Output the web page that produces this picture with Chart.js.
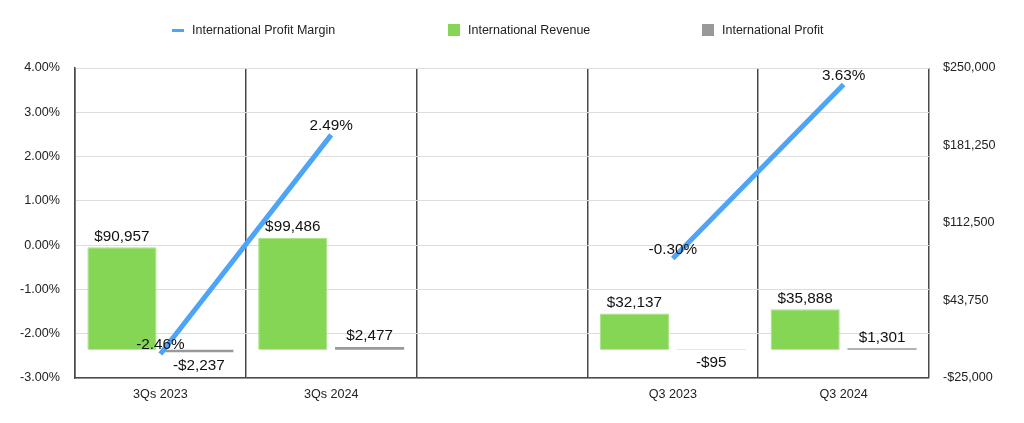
<!DOCTYPE html>
<html>
<head>
<meta charset="utf-8">
<script src="https://cdn.jsdelivr.net/npm/chart.js@4.4.1/dist/chart.umd.min.js"></script>
<style>
  html, body { margin: 0; padding: 0; background: #fff; }
  #wrap { position: relative; width: 1024px; height: 423px; }
  #legend { position: absolute; left: 0; top: 0; width: 1024px; height: 60px; pointer-events: none;
            font-family: Helvetica, Arial, "Liberation Sans", sans-serif; font-size: 12.5px; color: #222; }
  .item { position: absolute; top: 22px; height: 16px; display: flex; align-items: center; white-space: nowrap; }
  .mk { display: inline-block; }
</style>
</head>
<body>
<div id="wrap">
  <canvas id="c" width="1024" height="423"></canvas>
  <div id="legend"></div>
</div>
<script>
const categories = ['3Qs 2023', '3Qs 2024', '', 'Q3 2023', 'Q3 2024'];
const profitMargin = [-2.46, 2.49, null, -0.30, 3.63];
const revenue = [90957, 99486, null, 32137, 35888];
const profit = [-2237, 2477, null, -95, 1301];
const seriesNames = ['International Profit Margin', 'International Revenue', 'International Profit'];
const seriesColors = ['#4ea4f6', '#85d655', '#999999'];
const leftTicks = { min: -3, max: 4, step: 1 };
const rightTicks = { min: -25000, max: 250000, step: 68750 };

const FONT = 'Helvetica, Arial, "Liberation Sans", sans-serif';

function money(v) {
  const s = '$' + Math.abs(Math.round(v)).toLocaleString('en-US');
  return v < 0 ? '-' + s : s;
}
function pct(v) { return v.toFixed(2) + '%'; }

const labelPlugin = {
  id: 'valueLabels',
  afterDatasetsDraw(chart) {
    const ctx = chart.ctx;
    ctx.save();
    ctx.font = '15.3px ' + FONT;
    ctx.fillStyle = '#111';
    ctx.textAlign = 'center';
    ctx.textBaseline = 'middle';
    chart.data.datasets.forEach((ds, di) => {
      const meta = chart.getDatasetMeta(di);
      meta.data.forEach((el, i) => {
        const v = ds.data[i];
        if (v === null || v === undefined) return;
        if (ds.type === 'line') {
          ctx.fillText(pct(v), el.x, el.y - 9);
        } else {
          const y = v >= 0 ? el.y - 11 : el.y + 13;
          ctx.fillText(money(v), el.x, y);
        }
      });
    });
    ctx.restore();
  }
};

const chart = new Chart(document.getElementById('c'), {
  data: {
    labels: categories,
    datasets: [
      {
        type: 'line', label: seriesNames[0], data: profitMargin, yAxisID: 'y',
        borderColor: seriesColors[0], backgroundColor: seriesColors[0],
        borderWidth: 5, pointRadius: 0, spanGaps: false, tension: 0, borderCapStyle: 'butt'
      },
      {
        type: 'bar', label: seriesNames[1], data: revenue, yAxisID: 'y1',
        backgroundColor: seriesColors[1], borderColor: '#a3e27f', borderWidth: 1,
        categoryPercentage: 0.9, barPercentage: 0.9
      },
      {
        type: 'bar', label: seriesNames[2], data: profit, yAxisID: 'y1',
        backgroundColor: seriesColors[2], borderColor: seriesColors[2], borderWidth: 0,
        categoryPercentage: 0.9, barPercentage: 0.9
      }
    ]
  },
  options: {
    responsive: false,
    animation: false,
    devicePixelRatio: 1,
    layout: { padding: { top: 68, left: 0, right: 0, bottom: 0 } },
    plugins: { legend: { display: false }, tooltip: { enabled: false } },
    scales: {
      x: {
        offset: true,
        grid: { offset: true, color: '#4a4a4a', lineWidth: 1.5, drawTicks: false },
        border: { color: '#4a4a4a', width: 1.5 },
        ticks: { color: '#222', font: { family: FONT, size: 12.6 }, padding: 9, maxRotation: 0, autoSkip: false },
        afterFit(s) { s.height = 45; }
      },
      y: {
        position: 'left',
        min: leftTicks.min, max: leftTicks.max,
        grid: { color: '#dddddd', lineWidth: 1, drawTicks: false },
        border: { color: '#4a4a4a', width: 1.5 },
        ticks: { stepSize: leftTicks.step, color: '#222', font: { family: FONT, size: 12.6 }, padding: 15, callback: v => pct(v) },
        afterFit(s) { s.width = 75; }
      },
      y1: {
        position: 'right',
        min: rightTicks.min, max: rightTicks.max,
        grid: { drawOnChartArea: false, drawTicks: false },
        border: { display: false },
        ticks: { stepSize: rightTicks.step, color: '#222', font: { family: FONT, size: 12.6 }, padding: 14, callback: v => money(v) },
        afterFit(s) { s.width = 95; }
      }
    }
  },
  plugins: [labelPlugin]
});

// HTML legend built from the chart's datasets
const legendLefts = [172, 448, 702];
const legend = document.getElementById('legend');
chart.data.datasets.forEach((ds, i) => {
  const item = document.createElement('div');
  item.className = 'item';
  item.style.left = legendLefts[i] + 'px';
  const mk = document.createElement('span');
  mk.className = 'mk';
  if (ds.type === 'line') {
    mk.style.width = '12px'; mk.style.height = '3px'; mk.style.marginRight = '8px';
    mk.style.background = ds.borderColor;
  } else {
    mk.style.width = '12px'; mk.style.height = '12px'; mk.style.marginRight = '8px';
    mk.style.background = ds.backgroundColor;
  }
  const txt = document.createElement('span');
  txt.textContent = ds.label;
  item.appendChild(mk);
  item.appendChild(txt);
  legend.appendChild(item);
});
</script>
</body>
</html>
